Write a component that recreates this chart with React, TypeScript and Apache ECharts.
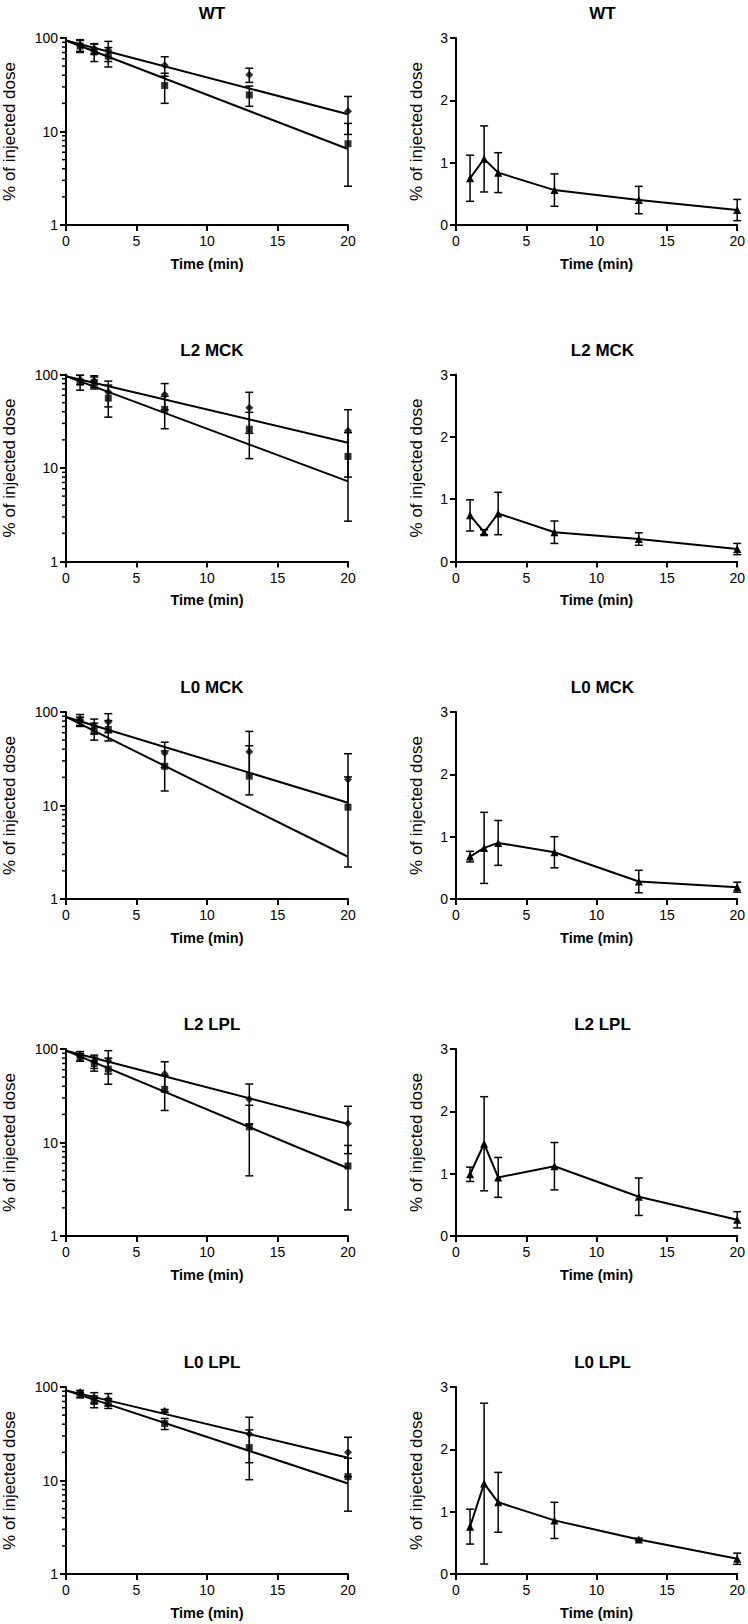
import React, { useEffect, useRef } from "react";
import * as echarts from "echarts";

const TIMES = [1, 2, 3, 7, 13, 20];
const TITLES = ["WT", "L2 MCK", "L0 MCK", "L2 LPL", "L0 LPL"];
const MINOR_TICKS = [2, 3, 4, 5, 6, 7, 8, 9, 20, 30, 40, 50, 60, 70, 80, 90];

// left panels: diamonds (upper series)
const DIAMOND_MEAN = [
  [84, 77, 74, 51, 40.5, 16.5],
  [88, 85, 65, 61, 44, 25],
  [80, 71, 78, 36.5, 37.5, 19],
  [84, 74, 75, 54, 29, 16],
  [88, 77, 74, 55.5, 31.5, 20],
];
const DIAMOND_SD = [
  [12, 10, 18, 12, 7, 7.2],
  [10, 12, 20, 19, 20.5, 17],
  [8, 13, 18, 11, 24.5, 16.8],
  [10, 12, 21, 19, 13.2, 8.4],
  [4, 10, 11, 2, 16, 9],
];
// left panels: squares (lower series)
const SQUARE_MEAN = [
  [82, 71, 64, 31, 24.6, 7.4],
  [83, 82, 56, 42.3, 26, 13.3],
  [82, 63, 65, 26.3, 20.6, 9.6],
  [82, 70, 61, 37, 14.7, 5.6],
  [82, 70, 67, 40.6, 22.5, 11],
];
const SQUARE_SD = [
  [12, 15, 15, 11, 6, 4.8],
  [15, 12, 21, 16, 13.4, 10.6],
  [12, 13, 16, 12, 23, 10.6],
  [8, 12, 19, 15, 10.3, 3.7],
  [5, 10, 8, 5.5, 12.3, 6.3],
];
// fitted lines: [value at t=0, value at t=20]
const FIT_UPPER = [
  [94, 15.3],
  [96, 18.6],
  [88.5, 10.7],
  [96, 15.8],
  [92, 17.5],
];
const FIT_LOWER = [
  [94, 6.5],
  [96, 7.2],
  [88.5, 2.83],
  [96, 5.3],
  [92, 9.3],
];
// right panels: triangles
const TRIANGLE_MEAN = [
  [0.75, 1.06, 0.84, 0.56, 0.4, 0.24],
  [0.74, 0.47, 0.77, 0.47, 0.36, 0.2],
  [0.68, 0.82, 0.9, 0.75, 0.28, 0.19],
  [0.99, 1.48, 0.94, 1.12, 0.63, 0.26],
  [0.76, 1.45, 1.15, 0.86, 0.555, 0.245],
];
const TRIANGLE_SD = [
  [0.37, 0.53, 0.32, 0.26, 0.22, 0.17],
  [0.25, 0.04, 0.34, 0.18, 0.1, 0.09],
  [0.085, 0.57, 0.36, 0.25, 0.18, 0.08],
  [0.115, 0.755, 0.32, 0.38, 0.3, 0.13],
  [0.28, 1.29, 0.48, 0.29, 0.02, 0.09],
];

const FONT = "'Liberation Sans', Arial, Helvetica, sans-serif";
const ROW_TOPS = [38, 374.5, 712, 1049, 1387];
const ROW_H = 187;
const LEFT_X = 66;
const LEFT_W = 282;
const RIGHT_X = 456;
const RIGHT_W = 283;

function errorBars(g: number, means: number[], sds: number[], isLog: boolean) {
  return {
    type: "custom",
    xAxisIndex: g,
    yAxisIndex: g,
    silent: true,
    z: 2,
    encode: { x: 0, y: 1 },
    data: TIMES.map((t, i) => [t, means[i], sds[i]]),
    renderItem: (params: any, api: any) => {
      const t = api.value(0);
      const m = api.value(1);
      const s = api.value(2);
      const st = { stroke: "#000", lineWidth: 1.5 };
      const cap = 4;
      const mid = api.coord([t, m]);
      const hi = api.coord([t, m + s]);
      const children: any[] = [
        { type: "line", shape: { x1: hi[0], y1: hi[1], x2: mid[0], y2: mid[1] }, style: st },
        { type: "line", shape: { x1: hi[0] - cap, y1: hi[1], x2: hi[0] + cap, y2: hi[1] }, style: st },
      ];
      if (!isLog || m - s > 0) {
        const lo = api.coord([t, m - s]);
        children.push(
          { type: "line", shape: { x1: mid[0], y1: mid[1], x2: lo[0], y2: lo[1] }, style: st },
          { type: "line", shape: { x1: lo[0] - cap, y1: lo[1], x2: lo[0] + cap, y2: lo[1] }, style: st }
        );
      }
      return { type: "group", children };
    },
  };
}

function minorTicks(g: number) {
  return {
    type: "custom",
    xAxisIndex: g,
    yAxisIndex: g,
    silent: true,
    clip: false,
    encode: { x: 0, y: 1 },
    data: MINOR_TICKS.map((v) => [0, v]),
    renderItem: (params: any, api: any) => {
      const p = api.coord([0, api.value(1)]);
      return {
        type: "line",
        shape: { x1: p[0] - 4, y1: p[1], x2: p[0], y2: p[1] },
        style: { stroke: "#000", lineWidth: 1.5 },
      };
    },
  };
}

function buildOption() {
  const grid: any[] = [];
  const xAxis: any[] = [];
  const yAxis: any[] = [];
  const series: any[] = [];
  const title: any[] = [];

  const axisLine = { show: true, onZero: false, lineStyle: { color: "#000", width: 2 } };
  const axisTick = { show: true, inside: false, length: 6, lineStyle: { color: "#000", width: 2 } };
  const axisLabel = { color: "#000", fontSize: 14, fontFamily: FONT };

  TITLES.forEach((name, r) => {
    const top = ROW_TOPS[r];
    [
      { x: LEFT_X, w: LEFT_W, log: true },
      { x: RIGHT_X, w: RIGHT_W, log: false },
    ].forEach((col, c) => {
      const g = r * 2 + c;
      grid.push({ left: col.x, top, width: col.w, height: ROW_H, containLabel: false });
      title.push({
        text: name,
        left: col.x + col.w / 2,
        top: top - 38,
        textAlign: "center",
        textStyle: { fontSize: 17, fontWeight: "bold", color: "#000", fontFamily: FONT },
      });
      xAxis.push({
        type: "value",
        gridIndex: g,
        min: 0,
        max: 20,
        interval: 5,
        name: "Time (min)",
        nameLocation: "middle",
        nameGap: 31,
        nameTextStyle: { fontSize: 14.5, fontWeight: "bold", color: "#000", fontFamily: FONT },
        axisLine,
        axisTick,
        axisLabel: { ...axisLabel, margin: 9 },
        splitLine: { show: false },
      });
      if (col.log) {
        yAxis.push({
          type: "log",
          logBase: 10,
          gridIndex: g,
          min: 1,
          max: 100,
          name: "% of injected dose",
          nameLocation: "middle",
          nameGap: 48,
          nameTextStyle: { fontSize: 17, color: "#000", fontFamily: FONT },
          axisLine,
          axisTick,
          axisLabel: { ...axisLabel, margin: 8 },
          splitLine: { show: false },
        });
        series.push(minorTicks(g));
        series.push(errorBars(g, DIAMOND_MEAN[r], DIAMOND_SD[r], true));
        series.push(errorBars(g, SQUARE_MEAN[r], SQUARE_SD[r], true));
        series.push({
          type: "line",
          xAxisIndex: g,
          yAxisIndex: g,
          data: [
            [0, FIT_UPPER[r][0]],
            [20, FIT_UPPER[r][1]],
          ],
          showSymbol: false,
          symbol: "none",
          lineStyle: { color: "#000", width: 2 },
          z: 3,
          silent: true,
        });
        series.push({
          type: "line",
          xAxisIndex: g,
          yAxisIndex: g,
          data: [
            [0, FIT_LOWER[r][0]],
            [20, FIT_LOWER[r][1]],
          ],
          showSymbol: false,
          symbol: "none",
          lineStyle: { color: "#000", width: 2 },
          z: 3,
          silent: true,
        });
        series.push({
          type: "scatter",
          xAxisIndex: g,
          yAxisIndex: g,
          symbol: "diamond",
          symbolSize: 8,
          itemStyle: { color: "#000" },
          data: TIMES.map((t, i) => [t, DIAMOND_MEAN[r][i]]),
          z: 4,
          silent: true,
        });
        series.push({
          type: "scatter",
          xAxisIndex: g,
          yAxisIndex: g,
          symbol: "rect",
          symbolSize: 7,
          itemStyle: { color: "#000" },
          data: TIMES.map((t, i) => [t, SQUARE_MEAN[r][i]]),
          z: 4,
          silent: true,
        });
      } else {
        yAxis.push({
          type: "value",
          gridIndex: g,
          min: 0,
          max: 3,
          interval: 1,
          name: "% of injected dose",
          nameLocation: "middle",
          nameGap: 31,
          nameTextStyle: { fontSize: 17, color: "#000", fontFamily: FONT },
          axisLine,
          axisTick,
          axisLabel: { ...axisLabel, margin: 8 },
          splitLine: { show: false },
        });
        series.push(errorBars(g, TRIANGLE_MEAN[r], TRIANGLE_SD[r], false));
        series.push({
          type: "line",
          xAxisIndex: g,
          yAxisIndex: g,
          data: TIMES.map((t, i) => [t, TRIANGLE_MEAN[r][i]]),
          symbol: "triangle",
          symbolSize: 8,
          showSymbol: true,
          itemStyle: { color: "#000" },
          lineStyle: { color: "#000", width: 2 },
          z: 4,
          silent: true,
        });
      }
    });
  });

  return {
    animation: false,
    backgroundColor: "#fff",
    title,
    grid,
    xAxis,
    yAxis,
    series,
  };
}

export default function App() {
  const ref = useRef<HTMLDivElement>(null);
  useEffect(() => {
    if (!ref.current) return;
    const chart = echarts.init(ref.current, undefined, { renderer: "svg" });
    chart.setOption(buildOption() as any);
    return () => chart.dispose();
  }, []);
  return (
    <div
      ref={ref}
      style={{ position: "absolute", left: 0, top: 0, width: 748, height: 1624, background: "#fff" }}
    />
  );
}
